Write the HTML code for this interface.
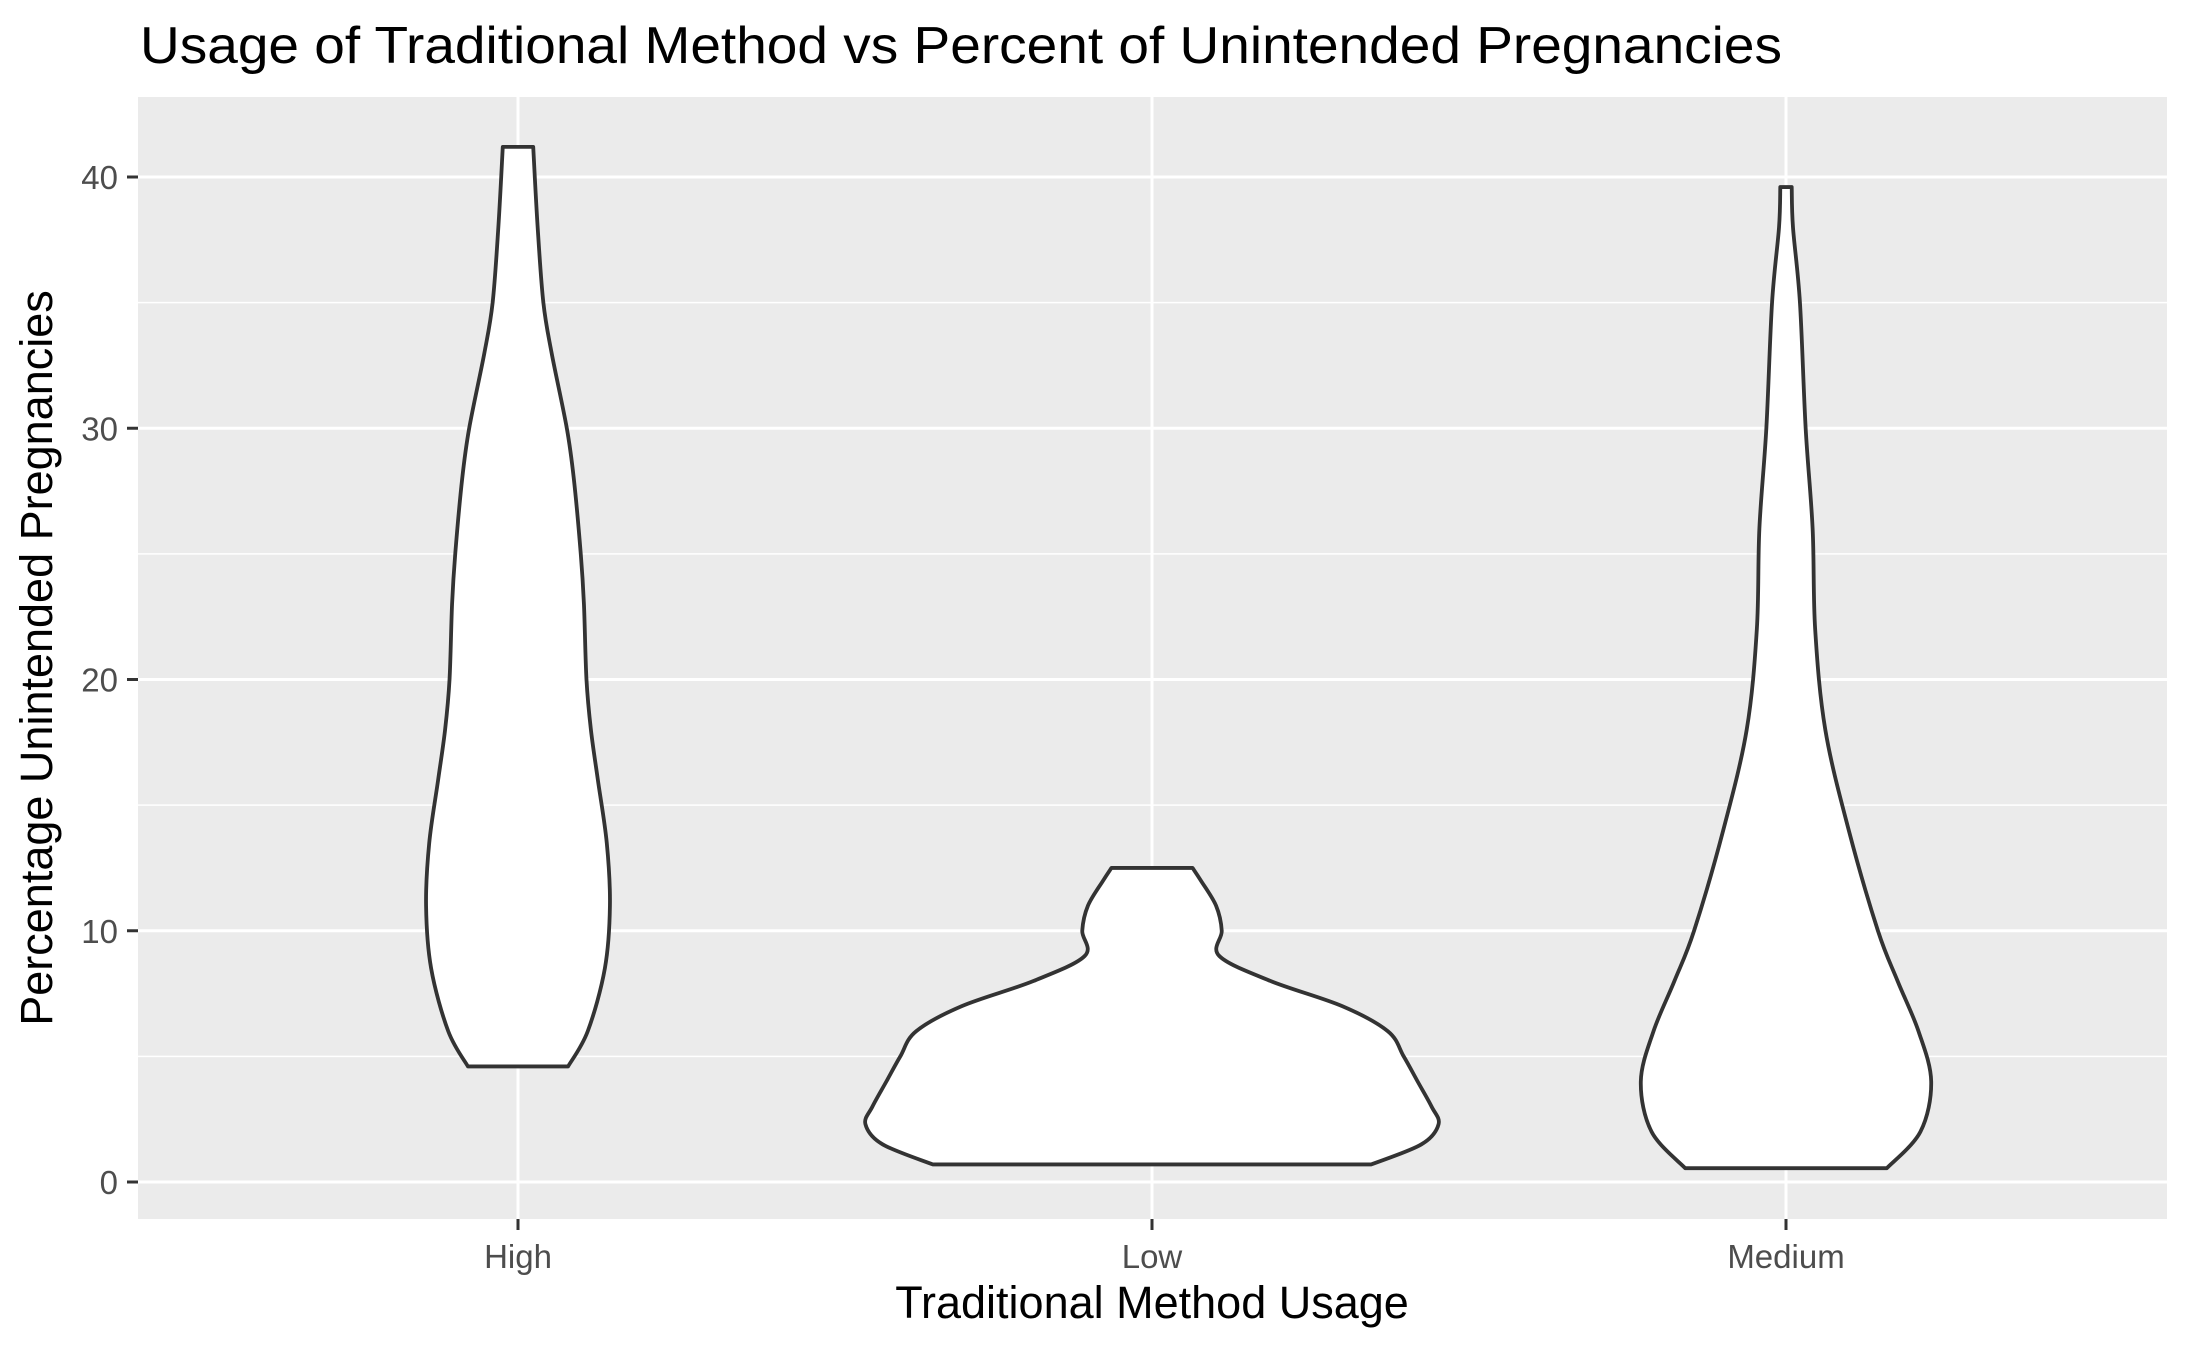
<!DOCTYPE html>
<html><head><meta charset="utf-8"><style>
html,body{margin:0;padding:0;background:#fff}
text{font-family:"Liberation Sans",sans-serif}
</style></head><body>
<svg id="chart" width="2187" height="1351" xmlns="http://www.w3.org/2000/svg">
<text x="140" y="63" font-size="52" fill="#000" textLength="1642" lengthAdjust="spacingAndGlyphs">Usage of Traditional Method vs Percent of Unintended Pregnancies</text>
<rect x="138" y="97" width="2029" height="1122" fill="#ebebeb"/>
<g id="grid"></g>
<g id="violins"></g>
<g id="axes"></g>
<text x="1152" y="1318" font-size="45" text-anchor="middle" fill="#000">Traditional Method Usage</text>
<text transform="translate(52,658) rotate(-90)" font-size="45" text-anchor="middle" fill="#000">Percentage Unintended Pregnancies</text>
</svg>
<script>
const categories = ["High","Low","Medium"];
const yTicks = [0,10,20,30,40];
const highY = [4.6,6,8.5,11,13.5,16,18,20,23,25,28,30,33,35,38,41.2];
const highW = [0.079,0.110,0.137,0.145,0.140,0.126,0.115,0.108,0.104,0.099,0.088,0.077,0.053,0.040,0.031,0.024];
const lowY = [0.7,1.5,2.3,3,4,5,6,7,8,9,10,11,12,12.5];
const lowW = [0.346,0.425,0.452,0.441,0.419,0.397,0.372,0.300,0.187,0.106,0.110,0.101,0.077,0.064];
const medY = [0.55,2,4,6,8,10,14,18,22,26,30,35,38,39.6];
const medW = [0.159,0.212,0.229,0.209,0.176,0.145,0.099,0.062,0.046,0.042,0.031,0.022,0.011,0.009];
const seriesY = [highY, lowY, medY];
const seriesW = [highW, lowW, medW];

const NS = "http://www.w3.org/2000/svg";
const step = 634, x0 = 518;
const xScale = i => x0 + i*step;
const wScale = w => w*step;
const yScale = v => 1182 - v*25.125;

function mk(tag, attrs, parent){
  const e = document.createElementNS(NS, tag);
  for (const k in attrs) e.setAttribute(k, attrs[k]);
  parent.appendChild(e); return e;
}
const grid = document.getElementById('grid');
const axes = document.getElementById('axes');
const vg = document.getElementById('violins');

for (let i=0;i<yTicks.length-1;i++){
  const m = (yTicks[i]+yTicks[i+1])/2;
  const l = mk('line',{x1:138,x2:2167,y1:yScale(m),y2:yScale(m),stroke:'#fff','stroke-width':1.5},grid);
  
  
}
yTicks.forEach(t=>{
  const y = yScale(t);
  const l = mk('line',{x1:138,x2:2167,y1:y,y2:y,stroke:'#fff','stroke-width':3},grid);
  
  
  const tk = mk('line',{x1:127,x2:138,y1:y,y2:y,stroke:'#333','stroke-width':3},axes);
  
  
  const tx = mk('text',{x:118,y:y+12,'font-size':33,'text-anchor':'end',fill:'#4d4d4d'},axes);
  tx.textContent = t;
  
  
});
categories.forEach((c,i)=>{
  const x = xScale(i);
  const l = mk('line',{x1:x,x2:x,y1:97,y2:1219,stroke:'#fff','stroke-width':3},grid);
  
  
  const tk = mk('line',{x1:x,x2:x,y1:1219,y2:1230,stroke:'#333','stroke-width':3},axes);
  
  
  const tx = mk('text',{x:x,y:1268,'font-size':33,'text-anchor':'middle',fill:'#4d4d4d'},axes);
  tx.textContent = c;
  
  
});

function smoothPath(pts){
  let d = `M${pts[0][0]},${pts[0][1]}`;
  for (let i=0;i<pts.length-1;i++){
    const p0 = pts[Math.max(i-1,0)], p1 = pts[i], p2 = pts[i+1], p3 = pts[Math.min(i+2,pts.length-1)];
    const c1 = [p1[0]+(p2[0]-p0[0])/6, p1[1]+(p2[1]-p0[1])/6];
    const c2 = [p2[0]-(p3[0]-p1[0])/6, p2[1]-(p3[1]-p1[1])/6];
    d += ` C${c1[0]},${c1[1]} ${c2[0]},${c2[1]} ${p2[0]},${p2[1]}`;
  }
  return d;
}
categories.forEach((c,i)=>{
  const cx = xScale(i), ys = seriesY[i], ws = seriesW[i];
  const right = ys.map((v,k)=>[cx + wScale(ws[k]), yScale(v)]);
  const left = ys.map((v,k)=>[cx - wScale(ws[k]), yScale(v)]).reverse();
  let d = smoothPath(right);
  const top = left[0];
  d += ` L${top[0]},${top[1]}`;
  d += smoothPath(left).replace(/^M[^C]*/,' ');
  d += ' Z';
  const p = mk('path',{d:d,fill:'#fff',stroke:'#333','stroke-width':3.8,'stroke-linejoin':'round'},vg);
  
  
});
</script>
</body></html>
